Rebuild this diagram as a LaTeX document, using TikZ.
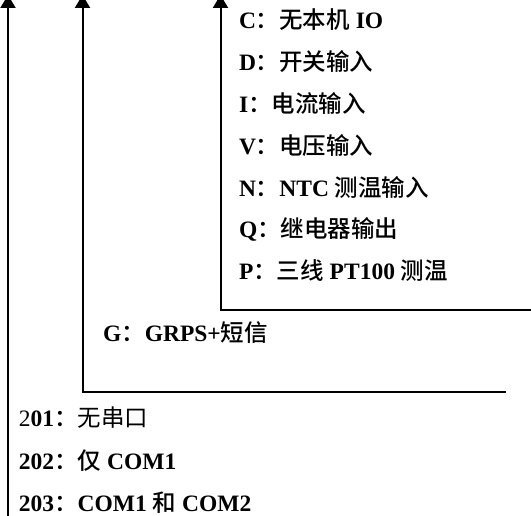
\documentclass[tikz,border=0pt]{standalone}
\usepackage{fontspec}
\setmainfont{Liberation Serif}
\newfontfamily\cjk{Noto Sans CJK SC}[BoldFont={Noto Sans CJK SC Medium}]
\usetikzlibrary{arrows.meta}
\newcommand{\zh}[1]{{\cjk #1}}

\begin{document}
\begin{tikzpicture}[x=1pt,y=1pt,line width=2pt,line join=miter,
    item/.style={anchor=base west,inner sep=0pt,font=\fontsize{23.5}{23.5}\selectfont\bfseries},
    uparrow/.style={-{Triangle[width=15pt,length=13pt]}}]
    \useasboundingbox (0,0) rectangle (531,516);

    % module options
    \node[item] (noIO) at (238,487) {C\zh{：无本机} IO};
    \node[item] (switchIn) at (238,445) {D\zh{：开关输入}};
    \node[item] (currIn) at (238,403) {I\zh{：电流输入}};
    \node[item] (voltIn) at (238,361) {V\zh{：电压输入}};
    \node[item] (ntcIn) at (238,319) {N\zh{：}NTC \zh{测温输入}};
    \node[item] (relayOut) at (238,278) {Q\zh{：继电器输出}};
    \node[item] (ptIn) at (238,236) {P\zh{：三线} PT100 \zh{测温}};

    % communication
    \node[item] (grps) at (102,174) {G\zh{：}GRPS+\zh{短信}};

    % serial ports
    \node[item] (noCom) at (18,89) {{\mdseries 2}01\zh{：{\mdseries 无串口}}};
    \node[item] (com1) at (18,46) {202\zh{：仅} COM1};
    \node[item] (com12) at (18,4) {203\zh{：}COM1 \zh{和} COM2};

    \coordinate (top1) at (8,521);
    \coordinate (end1) at (8,-2);
    \coordinate (top2) at (82.5,521);
    \coordinate (knee2) at (82.5,124);
    \coordinate (end2) at (506,124);
    \coordinate (top3) at (220.5,521);
    \coordinate (knee3) at (220.5,206);
    \coordinate (end3) at (533,206);

    \draw[uparrow] (end1) -- (top1);
    \draw[uparrow] (end2) -- (knee2) -- (top2);
    \draw[uparrow] (end3) -- (knee3) -- (top3);
\end{tikzpicture}
\end{document}
